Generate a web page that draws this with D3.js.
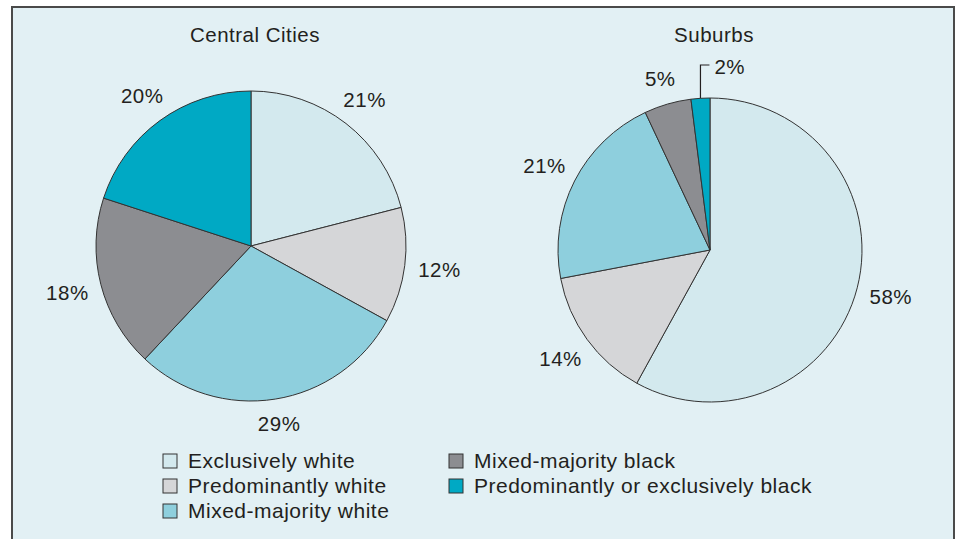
<!DOCTYPE html>
<html><head><meta charset="utf-8">
<script src="https://cdn.jsdelivr.net/npm/d3@7"></script>
<style>body{margin:0;background:#fff;}svg{display:block;}text{font-family:"Liberation Sans",Arial,sans-serif;fill:#231f20;letter-spacing:0.5px;}</style>
</head><body><svg id="c" width="956" height="539"></svg>
<script>
const categories = ["Exclusively white","Predominantly white","Mixed-majority white","Mixed-majority black","Predominantly or exclusively black"];
const centralCities = [21,12,29,18,20];
const suburbs = [58,14,21,5,2];
const colors = ["#d3e9ee","#d5d6d8","#8ecfdd","#8c8d91","#00a9c4"];
const titles = ["Central Cities","Suburbs"];
const FS = 20.5;

const svg = d3.select("#c");
svg.append("rect").attr("x",12).attr("y",7).attr("width",942).attr("height",540)
  .attr("fill","#e2f0f4").attr("stroke","#4a4a4a").attr("stroke-width",2);

const pies = [{vals:centralCities,cx:251,cy:246,r:155,title:titles[0]},
              {vals:suburbs,cx:710,cy:250,r:152,title:titles[1]}];
const pie = d3.pie().sort(null).value(d=>d);
pies.forEach(p=>{
  const g = svg.append("g").attr("transform",`translate(${p.cx},${p.cy})`);
  const arcs = pie(p.vals);
  const arc = d3.arc().innerRadius(0).outerRadius(p.r);
  g.selectAll("path").data(arcs).join("path").attr("d",arc)
    .attr("fill",(d,i)=>colors[i]).attr("stroke","#333").attr("stroke-width",1);
  svg.append("text").attr("x",p.cx+4).attr("y",42).attr("text-anchor","middle")
    .attr("font-size",FS).text(p.title);
  arcs.forEach((d,i)=>{
    const a=(d.startAngle+d.endAngle)/2;
    if(d.value<3){
      const x0=p.r*Math.sin(a), y0=-p.r*Math.cos(a);
      const yt=-p.r-33;
      g.append("path").attr("d",`M${x0},${y0}V${yt}H${x0+9}`).attr("fill","none").attr("stroke","#231f20").attr("stroke-width",1.2);
      g.append("text").attr("x",x0+14).attr("y",yt+2).attr("dy","0.35em").attr("font-size",FS).text(d.value+"%");
      return;
    }
    const lr=p.r+23+12*Math.abs(Math.sin(a));
    g.append("text").attr("x",lr*Math.sin(a)).attr("y",-lr*Math.cos(a)).attr("dy","0.35em")
      .attr("text-anchor","middle").attr("font-size",FS).text(d.value+"%");
  });
});

const legendPos = [[163,461],[163,486],[163,511],[449,461],[449,486]];
categories.forEach((c,i)=>{
  const [x,y]=legendPos[i];
  svg.append("rect").attr("x",x).attr("y",y-7).attr("width",14).attr("height",14)
    .attr("fill",colors[i]).attr("stroke","#333").attr("stroke-width",1);
  svg.append("text").attr("x",x+25).attr("y",y).attr("dy","0.35em").attr("font-size",21).text(c);
});
</script></body></html>
